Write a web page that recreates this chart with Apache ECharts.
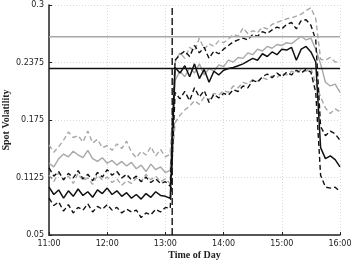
<!DOCTYPE html>
<html><head><meta charset="utf-8">
<script src="https://cdn.jsdelivr.net/npm/echarts@6/dist/echarts.min.js"></script>
<style>html,body{margin:0;padding:0;background:#fff}#c{width:353px;height:261px}</style>
</head><body><div id="c"></div>
<script>
// 5-minute steps from 11:00 (660 min) to 16:00 (960 min)
const startMin = 660, stepMin = 5;
const xTickLabels = ['11:00','12:00','13:00','14:00','15:00','16:00'];
const yTickLabels = ['0.05','0.1125','0.175','0.2375','0.3'];

const blackMid = [0.102,0.094,0.099,0.090,0.098,0.092,0.100,0.093,0.097,0.091,0.099,0.095,0.101,0.094,0.098,0.092,0.096,0.090,0.094,0.089,0.095,0.091,0.097,0.093,0.092,0.090,
 0.232,0.226,0.234,0.222,0.236,0.220,0.230,0.216,0.228,0.224,0.229,0.231,0.232,0.234,0.236,0.239,0.242,0.240,0.247,0.244,0.249,0.246,0.252,0.251,0.254,0.240,0.252,0.255,0.249,0.238,
 0.145,0.133,0.136,0.132,0.124];
const blackUp = [0.123,0.114,0.119,0.110,0.117,0.112,0.120,0.111,0.116,0.109,0.118,0.113,0.121,0.115,0.119,0.112,0.116,0.110,0.114,0.108,0.113,0.107,0.111,0.106,0.108,0.103,
 0.240,0.246,0.250,0.244,0.256,0.248,0.254,0.242,0.250,0.247,0.252,0.256,0.260,0.262,0.264,0.262,0.268,0.266,0.271,0.269,0.273,0.276,0.274,0.279,0.281,0.274,0.283,0.284,0.278,0.262,
 0.168,0.158,0.163,0.160,0.153];
const blackLow = [0.090,0.082,0.086,0.076,0.083,0.074,0.080,0.077,0.084,0.075,0.081,0.078,0.083,0.077,0.080,0.074,0.078,0.075,0.077,0.069,0.074,0.072,0.078,0.075,0.080,0.079,
 0.205,0.198,0.206,0.196,0.210,0.200,0.207,0.194,0.203,0.199,0.204,0.202,0.208,0.206,0.212,0.210,0.218,0.216,0.222,0.225,0.221,0.226,0.222,0.227,0.224,0.229,0.226,0.230,0.227,0.205,
 0.115,0.102,0.101,0.102,0.097];
const grayMid = [0.128,0.124,0.133,0.138,0.135,0.141,0.137,0.134,0.142,0.133,0.130,0.134,0.128,0.131,0.126,0.130,0.125,0.129,0.122,0.126,0.119,0.127,0.121,0.124,0.118,0.120,
 0.218,0.228,0.222,0.232,0.226,0.236,0.224,0.231,0.228,0.235,0.233,0.240,0.238,0.243,0.242,0.248,0.246,0.252,0.250,0.255,0.253,0.257,0.256,0.259,0.258,0.262,0.266,0.262,0.264,0.252,
 0.236,0.216,0.212,0.214,0.205];
const grayUp = [0.148,0.140,0.146,0.153,0.162,0.156,0.158,0.151,0.163,0.150,0.154,0.145,0.147,0.142,0.149,0.144,0.152,0.140,0.134,0.141,0.137,0.146,0.136,0.143,0.135,0.138,
 0.238,0.248,0.242,0.254,0.250,0.264,0.252,0.258,0.255,0.261,0.259,0.263,0.268,0.266,0.275,0.269,0.272,0.270,0.276,0.274,0.279,0.281,0.283,0.285,0.286,0.288,0.290,0.294,0.297,0.285,
 0.241,0.240,0.243,0.238,0.239];
const grayLow = [0.115,0.108,0.118,0.110,0.114,0.106,0.117,0.109,0.112,0.105,0.115,0.110,0.113,0.107,0.111,0.104,0.109,0.106,0.112,0.108,0.116,0.110,0.114,0.108,0.111,0.106,
 0.172,0.180,0.186,0.190,0.196,0.192,0.200,0.197,0.204,0.202,0.207,0.205,0.212,0.210,0.216,0.214,0.219,0.217,0.221,0.219,0.223,0.221,0.226,0.224,0.228,0.226,0.230,0.228,0.231,0.215,
 0.200,0.188,0.182,0.187,0.184];

const grayLevel = 0.2655;
const blackLevel = 0.231;
const eventMin = 787; // ~13:07

const toPts = arr => arr.map((v,i)=>[startMin + i*stepMin, v]);
const BLACK = '#111', GRAY = '#a8a8a8';

function ser(data, color, dashed, w){
  return {type:'line', data: toPts(data), showSymbol:false, symbol:'none', animation:false,
    lineStyle:{color, width:w||1.4, type: dashed ? [5,3] : 'solid'}};
}
const series = [
  ser(grayUp, GRAY, true), ser(grayLow, GRAY, true), ser(grayMid, GRAY, false),
  ser(blackUp, BLACK, true), ser(blackLow, BLACK, true), ser(blackMid, BLACK, false, 1.5),
  {type:'line', data:[[660,grayLevel],[960,grayLevel]], symbol:'none', animation:false, lineStyle:{color:GRAY,width:1.6}},
  {type:'line', data:[[660,blackLevel],[960,blackLevel]], symbol:'none', animation:false, lineStyle:{color:BLACK,width:1.4}},
  {type:'line', data:[[eventMin,0.05],[eventMin,0.3]], symbol:'none', animation:false, lineStyle:{color:BLACK,width:1.4,type:[7,3]}}
];

const chart = echarts.init(document.getElementById('c'), null, {renderer:'canvas'});
chart.setOption({
  animation:false,
  backgroundColor:'#fff',
  grid:{left:49, right:13, top:5, bottom:26, containLabel:false, outerBoundsMode:'none'},
  xAxis:{type:'value', min:660, max:960, interval:60,
    name:'Time of Day', nameLocation:'middle', nameGap:15, nameMoveOverlap:false,
    nameTextStyle:{fontFamily:'Liberation Serif', fontWeight:'bold', fontSize:10, color:'#222'},
    axisLine:{show:true, onZero:false, lineStyle:{color:'#222', width:1.5}},
    axisTick:{show:true, inside:true, length:3, lineStyle:{color:'#222'}},
    axisLabel:{margin:5, fontFamily:'DejaVu Sans', fontSize:8, color:'#222',
      formatter: v => xTickLabels[Math.round((v-660)/60)]},
    splitLine:{show:true, lineStyle:{color:'#cfcfcf', width:0.8, type:[1,2]}}
  },
  yAxis:{type:'value', min:0.05, max:0.3, interval:0.0625,
    name:'Spot Volatility', nameLocation:'middle', nameGap:38, nameRotate:90, nameMoveOverlap:false,
    nameTextStyle:{fontFamily:'Liberation Serif', fontWeight:'bold', fontSize:10, color:'#222'},
    axisLine:{show:true, lineStyle:{color:'#222', width:1.5}},
    axisTick:{show:true, inside:true, length:3, lineStyle:{color:'#222'}},
    axisLabel:{margin:5, fontFamily:'DejaVu Sans', fontSize:8, color:'#222',
      formatter: v => yTickLabels[Math.round((v-0.05)/0.0625)]},
    splitLine:{show:true, lineStyle:{color:'#cfcfcf', width:0.8, type:[1,2]}}
  },
  series
});
</script></body></html>
